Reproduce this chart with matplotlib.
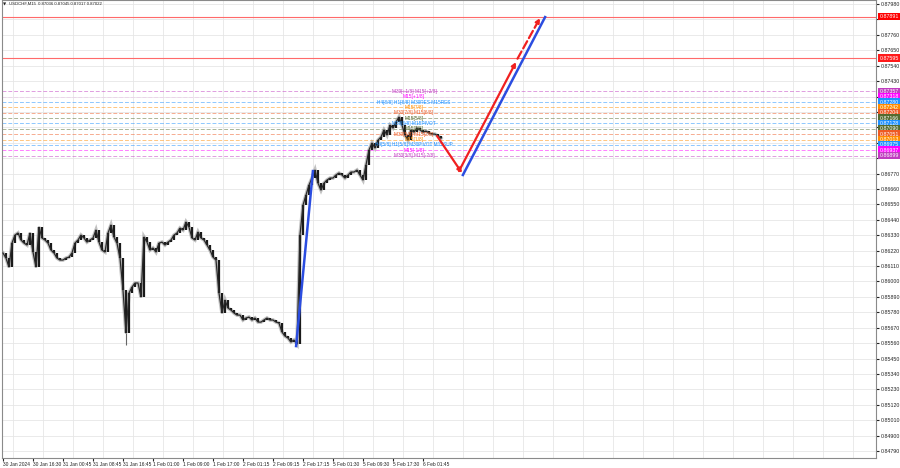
import matplotlib
matplotlib.use("Agg")
import matplotlib.pyplot as plt
import matplotlib.transforms as mtransforms
import numpy as np

plt.rcParams["font.family"] = ["Liberation Sans", "DejaVu Sans"]

# ---- data (one value per ~3 M15 bars) ----
chart_title = "USDCHF,M15  0.87036 0.87045 0.87017 0.87022"

closes = [
    0.86203, 0.86167, 0.86103, 0.86274, 0.86331, 0.86346, 0.86296, 0.86274,
    0.86260, 0.86346, 0.86210, 0.86103, 0.86388, 0.86310, 0.86296, 0.86274,
    0.86224, 0.86203, 0.86167, 0.86153, 0.86153, 0.86167, 0.86174, 0.86203,
    0.86274, 0.86296, 0.86331, 0.86310, 0.86281, 0.86296, 0.86310, 0.86367,
    0.86281, 0.86224, 0.86210, 0.86346, 0.86403, 0.86317, 0.86274, 0.86167,
    0.85939, 0.85632, 0.85917, 0.85960, 0.85989, 0.85989, 0.85889, 0.86317,
    0.86281, 0.86224, 0.86239, 0.86210, 0.86274, 0.86281, 0.86260, 0.86281,
    0.86296, 0.86331, 0.86346, 0.86381, 0.86367, 0.86424, 0.86388, 0.86310,
    0.86296, 0.86353, 0.86310, 0.86296, 0.86260, 0.86224, 0.86174, 0.86153,
    0.85917, 0.85775, 0.85867, 0.85810, 0.85796, 0.85775, 0.85760, 0.85760,
    0.85725, 0.85739, 0.85746, 0.85725, 0.85739, 0.85710, 0.85710, 0.85725,
    0.85739, 0.85725, 0.85725, 0.85710, 0.85703, 0.85639, 0.85610, 0.85596,
    0.85568, 0.85582, 0.85553, 0.86331, 0.86545, 0.86617, 0.86688, 0.86738,
    0.86795, 0.86702, 0.86652, 0.86702, 0.86724, 0.86738, 0.86738, 0.86760,
    0.86774, 0.86760, 0.86738, 0.86760, 0.86781, 0.86781, 0.86795, 0.86760,
    0.86724, 0.86831, 0.86938, 0.86988, 0.86952, 0.87009, 0.87031, 0.87081,
    0.87045, 0.87116, 0.87095, 0.87138, 0.87174, 0.87116, 0.87045, 0.87009,
    0.87081, 0.87066, 0.87095, 0.87081, 0.87066, 0.87074, 0.87059, 0.87052,
    0.87052, 0.87038, 0.87022,
]
spike_slot = 41
spike_low = 0.85546

time_labels = [
    "30 Jan 2024", "30 Jan 16:30", "31 Jan 00:45", "31 Jan 08:45", "31 Jan 16:45",
    "1 Feb 01:00", "1 Feb 09:00", "1 Feb 17:00", "2 Feb 01:15", "2 Feb 09:15",
    "2 Feb 17:15", "5 Feb 01:30", "5 Feb 09:30", "5 Feb 17:30", "6 Feb 01:45",
]
time_label_slots = [0, 10, 20, 30, 40, 50, 60, 70, 80, 90, 100, 110, 120, 130, 140]

level_prices = [0.87357, 0.87318, 0.87280, 0.87242, 0.87204, 0.87166, 0.87128,
                0.87090, 0.87051, 0.87013, 0.86975, 0.86937, 0.86899]
level_texts = [
    "M30[+1/8] M15[+2/8]", "M15[+1/8]", "H4[8/8] H1[8/8] M30RES M15RES",
    "M15[7/8]", "M30[7/8] M15[6/8]", "M15[5/8]", "M30[6/8] M15PIVOT",
    "M15[3/8]", "M30[5/8] M15[2/8]", "M15[1/8]", "H4[5/8] H1[5/8] M30PIVOT M15SUP",
    "M15[-1/8]", "M30[3/8] M15[-2/8]",
]
level_colors = ["#c03cc0", "#ff00ff", "#1e90ff", "#ff8c00", "#ee5a24", "#556b2f",
                "#1e90ff", "#556b2f", "#ee5a24", "#ff8c00", "#1e90ff", "#ff00ff",
                "#c03cc0"]

target_prices = [0.87891, 0.87595]

# projection lines: (slot, price) pairs
impulse_slots, impulse_prices = [97.7, 103.3], [0.85539, 0.86788]
pullback_slots, pullback_prices = [144.7, 153.0], [0.87038, 0.86774]
blue_up_slots, blue_up_prices = [153.3, 180.7], [0.86760, 0.87887]
red_up_slots, red_up_prices = [152.0, 171.0], [0.86788, 0.87566]
red_ext_slots, red_ext_prices = [171.5, 179.0], [0.87590, 0.87880]

grid_prices = [round(0.87980 - 0.0011 * k, 5) for k in range(30)]
hidden_ticks = {0.87870, 0.87320, 0.87210, 0.87100, 0.86990, 0.86880}

# ---- figure ----
fig = plt.figure(figsize=(9, 4.68), dpi=100)
ax = fig.add_axes([2 / 900, 10 / 468, 874 / 900, 458 / 468])
ax.set_xlim(-0.33, 291)
ax.set_ylim(0.84740, 0.88009)

# grid
ax.set_yticks(grid_prices)
ax.set_yticklabels(["" if p in hidden_ticks else f"{p:.5f}" for p in grid_prices])
ax.grid(axis="y", color="#e6e6e6", lw=0.6)
grid_slots = np.arange(3.33, 291, 10)
ax.vlines(grid_slots, 0, 1, transform=ax.get_xaxis_transform(),
          color="#e6e6e6", lw=0.6, zorder=0)

# candles (wick shadow + bodies)
slots = np.arange(len(closes))
c = np.array(closes)
o = np.r_[c[0], c[:-1]]
ax.plot(slots, c, color="#9a9a9a", lw=2.6, alpha=0.6, zorder=2,
        solid_joinstyle="miter")
ax.vlines(slots, np.minimum(o, c), np.maximum(o, c), color="#1a1a1a", lw=1.6, zorder=3)
ax.plot(slots, c, color="#2a2a2a", lw=0.9, zorder=3)
ax.vlines([spike_slot], [spike_low], [c[spike_slot]], color="#666666", lw=0.8, zorder=3)

# Murrey levels
for p, txt, col in zip(level_prices, level_texts, level_colors):
    ax.axhline(p, color=col, lw=0.7, ls=(0, (4, 2)), alpha=0.5, zorder=1)
    ax.text(137, p, txt, color=col, fontsize=3.4, ha="center", va="center", zorder=4)

for p in target_prices:
    ax.axhline(p, color="#ff6a6a", lw=0.8, zorder=1)

# trend lines / arrows
ax.plot(impulse_slots, impulse_prices, color="#2b4de0", lw=1.8, zorder=5)
ax.plot(blue_up_slots, blue_up_prices, color="#2b4de0", lw=1.8, zorder=5)
red = "#f02020"
for xs, ys, ls in [(pullback_slots, pullback_prices, "-"),
                   (red_up_slots, red_up_prices, "-"),
                   (red_ext_slots, red_ext_prices, "--")]:
    ax.annotate("", xy=(xs[1], ys[1]), xytext=(xs[0], ys[0]),
                arrowprops=dict(arrowstyle="-|>", color=red, lw=1.6,
                                ls=ls, mutation_scale=6, shrinkA=0, shrinkB=0),
                zorder=6)

# right-side price boxes
trans = mtransforms.blended_transform_factory(ax.transAxes, ax.transData)
for p, col in zip(target_prices + level_prices, ["#ff0000", "#ff1a1a"] + level_colors):
    ax.text(1.004, p, f"{p:.5f}", transform=trans, ha="left", va="center",
            fontsize=3.8, color="white", clip_on=False, zorder=7,
            bbox=dict(boxstyle="square,pad=0.25", fc=col, ec="none"))

# axes styling
ax.yaxis.tick_right()
ax.tick_params(axis="y", labelsize=3.8, length=2, pad=1.5, colors="#222222")
ax.set_xticks(time_label_slots)
ax.set_xticklabels(time_labels)
for lbl in ax.get_xticklabels():
    lbl.set_horizontalalignment("left")
ax.tick_params(axis="x", labelsize=3.5, length=2, pad=1, colors="#222222")
for s in ax.spines.values():
    s.set_color("#8a8a8a")
    s.set_linewidth(0.8)

fig.text(3 / 900, 1 - 4 / 468, "\u25bc", fontsize=3, va="center",
         family="DejaVu Sans", color="#222222")
fig.text(9 / 900, 1 - 4 / 468, chart_title, fontsize=3.1, va="center", color="#222222")

fig.savefig("out.png", dpi=100, facecolor="white")
